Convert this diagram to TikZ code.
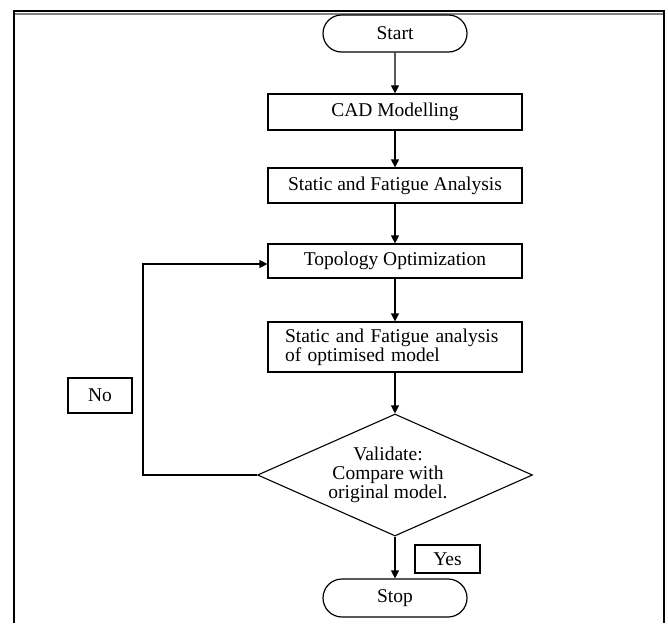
\documentclass[tikz,border=0pt]{standalone}
\usepackage{fontspec}
\setmainfont{Liberation Serif}
\usetikzlibrary{shapes.misc,shapes.geometric,arrows.meta}
\begin{document}
\begin{tikzpicture}[x=1pt,y=-1pt,
  every node/.style={font=\fontsize{19.5}{20}\selectfont, inner sep=0pt},
  box/.style={draw, line width=1.2pt, rectangle, minimum width=254pt},
  term/.style={draw, line width=1.2pt, rounded rectangle, minimum width=144pt},
  decision/.style={draw, line width=1.1pt, diamond, minimum width=275pt, minimum height=122pt},
  lab/.style={draw, line width=1.2pt, rectangle},
  flow/.style={line width=1.2pt, -{Triangle[length=8pt,width=8pt]}},
  frameline/.style={line width=1.4pt}
]
\useasboundingbox (0,0) rectangle (668,623);
% frame
\draw[frameline] (14,623) -- (14,11) -- (664,11) -- (664,623);
\draw[line width=1.2pt, gray] (15,14) -- (663,14);

\node[term, minimum height=37pt] (start) at (395,33.5) {Start};
\node[box, minimum height=36pt] (cad) at (395,112) {CAD Modelling};
\node[box, minimum height=35pt] (sfa) at (395,185.5) {Static and Fatigue Analysis};
\node[box, minimum height=34pt] (topo) at (395,261) {Topology Optimization};
\node[box, minimum height=50pt, text width=220pt, align=left, font=\fontsize{19.5}{17.5}\selectfont] (sfo) at (395,347) {Static and Fatigue analysis\\of optimised model};
\node[decision, label={[align=center, xshift=-7pt, font=\fontsize{19.5}{19}\selectfont]center:Validate:\\Compare with\\original model.}] (val) at (395,475) {};
\node[term, minimum height=38pt] (stop) at (395,598) {Stop};
\node[lab, minimum width=65pt, minimum height=28pt] (yes) at (447.5,559) {Yes};
\node[lab, minimum width=64pt, minimum height=35pt] (no) at (100,395.5) {No};

\coordinate (loopb) at (143,475);
\coordinate (loopt) at (143,264);

\draw[flow] (start) -- (cad);
\draw[flow] (cad) -- (sfa);
\draw[flow] (sfa) -- (topo);
\draw[flow] (topo) -- (sfo);
\draw[flow] (sfo) -- (val);
\draw[flow] (val) -- (stop);
\draw[flow] (val.west) -- (loopb) -- (loopt) -- (topo.west |- loopt);
\end{tikzpicture}
\end{document}
